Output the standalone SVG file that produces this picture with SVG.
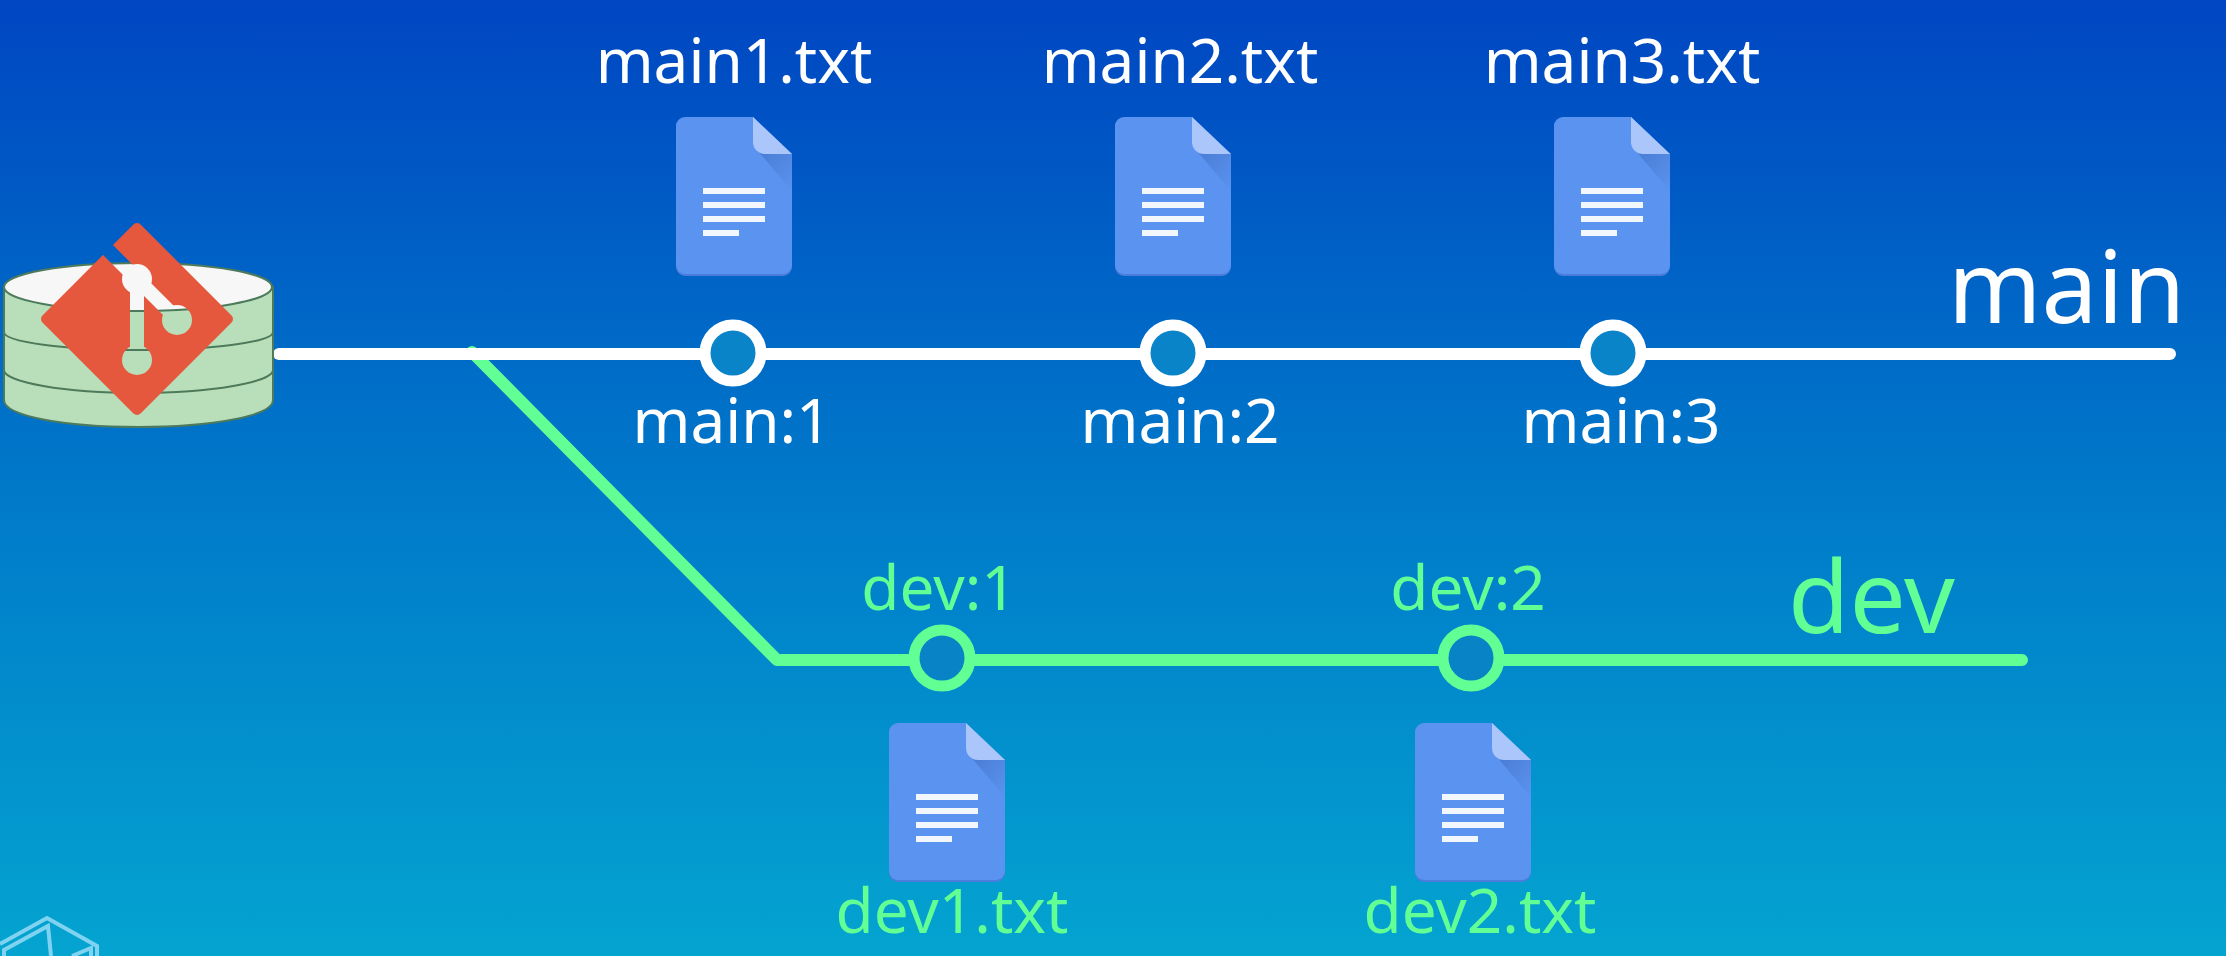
<svg xmlns="http://www.w3.org/2000/svg" xmlns:xlink="http://www.w3.org/1999/xlink" width="2226" height="956" viewBox="0 0 2226 956">
  <style>
    text { font-family: "Noto Sans", "Open Sans", sans-serif; }
    .w { fill: #ffffff; }
    .g { fill: #62ff95; }
    .sm { font-size: 62px; text-anchor: middle; }
    .big { font-size: 100px; }
    .wire { fill: none; stroke-width: 12; stroke-linecap: round; stroke-linejoin: round; }
    .cyl { fill: #b9dfba; stroke: #4e7a5c; stroke-width: 2; }
    .rib { fill: none; stroke: #4e7a5c; stroke-width: 2; }
  </style>
  <defs>
    <linearGradient id="bg" x1="0" y1="0" x2="0" y2="1">
      <stop offset="0" stop-color="#0046c2"/>
      <stop offset="0.5" stop-color="#0078c9"/>
      <stop offset="1" stop-color="#04a4d0"/>
    </linearGradient>
    <linearGradient id="crease" x1="0" y1="0" x2="1" y2="1">
      <stop offset="0" stop-color="#4a7bd2"/>
      <stop offset="1" stop-color="#5a93f0"/>
    </linearGradient>
    <!-- document icon, origin at its top-left corner -->
    <g id="doc">
      <path d="M9 1H77L116 38V150a9 9 0 0 1-9 9H9a9 9 0 0 1-9-9V9a9 9 0 0 1 9-8Z" fill="#4a7ddc"/>
      <path d="M9 0H77L116 37V148a9 9 0 0 1-9 9H9a9 9 0 0 1-9-9V9a9 9 0 0 1 9-9Z" fill="#5a93f0"/>
      <path d="M81 33L116 37V74Z" fill="url(#crease)"/>
      <path d="M77 0L116 37H89a12 12 0 0 1-12-12Z" fill="#aac6fa"/>
      <rect x="27" y="71" width="62" height="6" fill="#f2f6fd"/>
      <rect x="27" y="85" width="62" height="6" fill="#f2f6fd"/>
      <rect x="27" y="99" width="62" height="6" fill="#f2f6fd"/>
      <rect x="27" y="113" width="36" height="6" fill="#f2f6fd"/>
    </g>
    <!-- knocks the branch glyph out of the git diamond -->
    <mask id="gitcut" maskUnits="userSpaceOnUse" x="30" y="210" width="220" height="220">
      <rect x="30" y="210" width="220" height="220" fill="#fff"/>
      <g fill="none" stroke="#000" stroke-width="14">
        <path d="M96 238L137 279L177 319"/>
        <path d="M137 279V360"/>
      </g>
      <circle cx="137" cy="279" r="15" fill="#000"/>
      <circle cx="137" cy="360" r="15" fill="#000"/>
      <circle cx="177" cy="320" r="15" fill="#000"/>
    </mask>
  </defs>

  <rect width="2226" height="956" fill="url(#bg)"/>

  <!-- cube emblem cut off by the bottom edge -->
  <g id="emblem" fill="none" stroke="#7fd3f0" stroke-width="4">
    <path d="M0 944L47 918L97 946V956"/>
    <path d="M4 956V950L48 926L51 956"/>
    <path d="M72 956L91 948V956"/>
  </g>

  <g id="connectors">
    <path class="wire" stroke="#62ff95" d="M472 352L777 660H2022"/>
    <path class="wire" stroke="#ffffff" d="M279 354H2170"/>
  </g>

  <g id="repo">
    <path class="cyl" d="M4 287V400C4 416 64 427 138 427S273 416 273 400V287Z"/>
    <path class="rib" d="M4 332C4 342 64 350 138 350S273 342 273 332"/>
    <path class="rib" d="M4 370C4 382 64 393 138 393S273 382 273 370"/>
    <ellipse cx="138" cy="287" rx="134" ry="24" fill="#f6f7f6" stroke="#4e7a5c" stroke-width="2"/>
    <path d="M137 228L228 319L137 410L46 319Z" fill="#e5583d" stroke="#e5583d" stroke-width="10" stroke-linejoin="round" mask="url(#gitcut)"/>
  </g>

  <g id="main-file-1"><use href="#doc" x="676" y="117"/><text class="w sm" x="734" y="83">main1.txt</text></g>
  <g id="main-file-2"><use href="#doc" x="1115" y="117"/><text class="w sm" x="1180" y="83">main2.txt</text></g>
  <g id="main-file-3"><use href="#doc" x="1554" y="117"/><text class="w sm" x="1622" y="83">main3.txt</text></g>

  <g id="main-commit-1"><circle cx="733" cy="353" r="28" fill="#0a84c8" stroke="#fff" stroke-width="11"/><text class="w sm" x="732" y="443">main:1</text></g>
  <g id="main-commit-2"><circle cx="1173" cy="353" r="28" fill="#0a84c8" stroke="#fff" stroke-width="11"/><text class="w sm" x="1180" y="443">main:2</text></g>
  <g id="main-commit-3"><circle cx="1613" cy="353" r="28" fill="#0a84c8" stroke="#fff" stroke-width="11"/><text class="w sm" x="1621" y="443">main:3</text></g>

  <g id="main-label"><text class="w big" x="1948" y="323">main</text></g>
  <g id="dev-label"><text class="g big" x="1788" y="633">dev</text></g>

  <g id="dev-commit-1"><circle cx="942" cy="658" r="28" fill="#0884c6" stroke="#62ff95" stroke-width="11"/><text class="g sm" x="939" y="610">dev:1</text></g>
  <g id="dev-commit-2"><circle cx="1471" cy="658" r="28" fill="#0884c6" stroke="#62ff95" stroke-width="11"/><text class="g sm" x="1468" y="610">dev:2</text></g>

  <g id="dev-file-1"><use href="#doc" x="889" y="723"/><text class="g sm" x="952" y="933">dev1.txt</text></g>
  <g id="dev-file-2"><use href="#doc" x="1415" y="723"/><text class="g sm" x="1480" y="933">dev2.txt</text></g>
</svg>
